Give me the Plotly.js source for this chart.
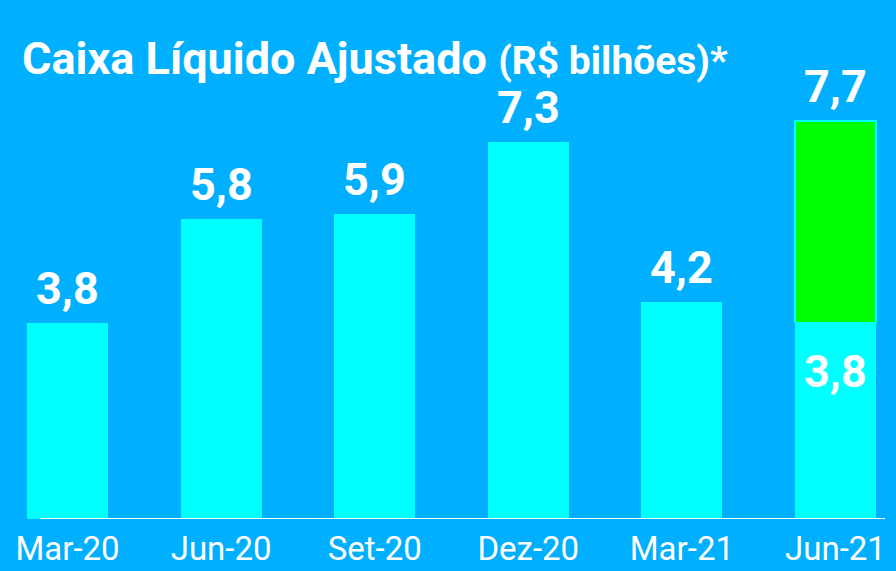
<!DOCTYPE html>
<html>
<head>
<meta charset="utf-8">
<script src="https://cdn.plot.ly/plotly-3.0.1.min.js"></script>
<style>
  html, body { margin: 0; padding: 0; background: #00B0FF; }
  #chart { width: 896px; height: 571px; }
</style>
</head>
<body>
<div id="chart"></div>
<script>
// Data
const categories = ["Mar-20", "Jun-20", "Set-20", "Dez-20", "Mar-21", "Jun-21"];
const caixaBase = [3.8, 5.8, 5.9, 7.3, 4.2, 3.8];
const caixaAdicional = [null, null, null, null, null, 3.9];
const labelsBase = ["3,8", "5,8", "5,9", "7,3", "4,2", "3,8"];
const totalJun21 = 7.7;
const labelTotalJun21 = "7,7";

const BG = "#00B0FF";
const CYAN = "#00FFFF";
const GREEN = "#00FF00";

const traces = [
  {
    type: "bar",
    x: categories,
    y: caixaBase,
    marker: { color: CYAN, line: { width: 0 } },
    hoverinfo: "skip"
  },
  {
    type: "bar",
    x: categories,
    y: caixaAdicional,
    marker: { color: GREEN, line: { color: CYAN, width: 1.5 } },
    hoverinfo: "skip"
  }
];

const labelFont = { family: "Roboto, 'DejaVu Sans', sans-serif", size: 45, color: "#FFFFFF", weight: 700 };

const annotations = [];
for (let i = 0; i < categories.length; i++) {
  if (i === categories.length - 1) {
    annotations.push({
      x: categories[i], y: caixaBase[i], xref: "x", yref: "y",
      text: "<b>" + labelsBase[i] + "</b>", showarrow: false,
      yanchor: "top", yshift: -20, font: labelFont
    });
  } else {
    annotations.push({
      x: categories[i], y: caixaBase[i], xref: "x", yref: "y",
      text: "<b>" + labelsBase[i] + "</b>", showarrow: false,
      yanchor: "bottom", yshift: 6, font: labelFont
    });
  }
}
annotations.push({
  x: categories[categories.length - 1], y: totalJun21, xref: "x", yref: "y",
  text: "<b>" + labelTotalJun21 + "</b>", showarrow: false,
  yanchor: "bottom", yshift: 6, font: labelFont
});

const layout = {
  width: 896,
  height: 571,
  paper_bgcolor: BG,
  plot_bgcolor: BG,
  margin: { l: 0, r: 0, t: 0, b: 52, pad: 0 },
  barmode: "stack",
  bargap: 0.473,
  showlegend: false,
  title: {
    text: "<b>Caixa Líquido Ajustado</b> <b><span style='font-size:39px'>(R$ bilhões)*</span></b>",
    font: { family: "Roboto, 'DejaVu Sans', sans-serif", size: 45, color: "#FFFFFF" },
    x: 22 / 896, xanchor: "left", xref: "paper",
    y: 1 - 58 / 571, yanchor: "middle", yref: "container"
  },
  xaxis: {
    type: "category",
    range: [-0.4395, 5.394],
    showgrid: false,
    zeroline: false,
    showline: false,
    ticks: "",
    ticklabelstandoff: 7,
    tickfont: { family: "Roboto, 'DejaVu Sans', sans-serif", size: 33, color: "#FFFFFF" },
    fixedrange: true,
    automargin: false
  },
  yaxis: {
    range: [0, 10.04],
    showgrid: false,
    zeroline: false,
    showline: false,
    showticklabels: false,
    ticks: "",
    fixedrange: true,
    automargin: false
  },
  shapes: [
    {
      type: "line", xref: "paper", yref: "y",
      x0: 40 / 896, x1: 885 / 896, y0: 0, y1: 0,
      line: { color: "#FFFFFF", width: 2 }
    }
  ],
  annotations: annotations
};

Plotly.newPlot("chart", traces, layout, { displayModeBar: false, staticPlot: true });
</script>
</body>
</html>
